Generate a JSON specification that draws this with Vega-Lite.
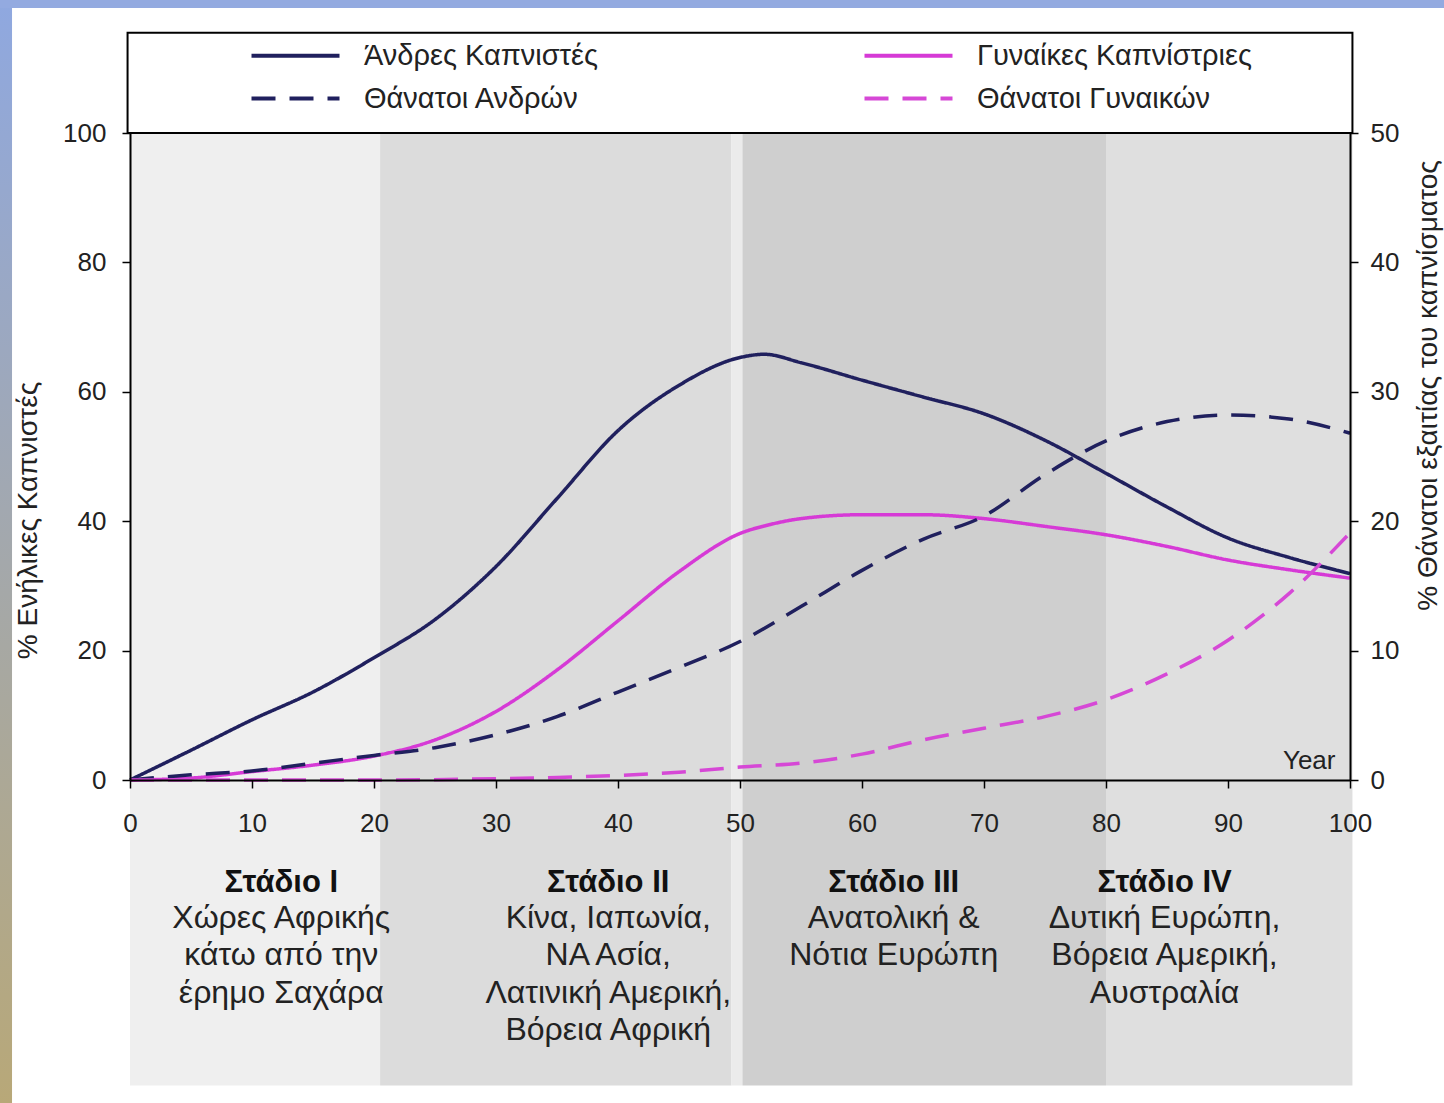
{
  "$schema": "https://vega.github.io/schema/vega-lite/v6.json",
  "width": 1220,
  "height": 647,
  "autosize": {"type": "none"},
  "padding": {"left": 130, "top": 133, "right": 94, "bottom": 323},
  "background": "white",
  "config": {
    "view": {"stroke": null},
    "font": "Liberation Sans",
    "axis": {
      "zindex": 1,
      "grid": false,
      "labelFlush": false,
      "labelOverlap": false,
      "domainColor": "#000000",
      "domainWidth": 2,
      "tickColor": "#000000",
      "tickWidth": 1.5,
      "tickSize": 8,
      "labelColor": "#222222",
      "labelFontSize": 26,
      "labelFont": "Liberation Sans",
      "titleFont": "Liberation Sans",
      "titleFontSize": 28,
      "titleFontWeight": "normal",
      "titleColor": "#222222"
    }
  },
  "datasets": {
    "smokers": [
      {"series": "Άνδρες Καπνιστές", "year": 0, "value": 0},
      {"series": "Άνδρες Καπνιστές", "year": 5, "value": 4.6},
      {"series": "Άνδρες Καπνιστές", "year": 10, "value": 9.3},
      {"series": "Άνδρες Καπνιστές", "year": 15, "value": 13.6},
      {"series": "Άνδρες Καπνιστές", "year": 20, "value": 18.9},
      {"series": "Άνδρες Καπνιστές", "year": 25, "value": 24.8},
      {"series": "Άνδρες Καπνιστές", "year": 30, "value": 33.0},
      {"series": "Άνδρες Καπνιστές", "year": 35, "value": 43.5},
      {"series": "Άνδρες Καπνιστές", "year": 40, "value": 54.0},
      {"series": "Άνδρες Καπνιστές", "year": 45, "value": 61.0},
      {"series": "Άνδρες Καπνιστές", "year": 50, "value": 65.3},
      {"series": "Άνδρες Καπνιστές", "year": 52, "value": 65.8},
      {"series": "Άνδρες Καπνιστές", "year": 55, "value": 64.5},
      {"series": "Άνδρες Καπνιστές", "year": 60, "value": 61.8},
      {"series": "Άνδρες Καπνιστές", "year": 65, "value": 59.2},
      {"series": "Άνδρες Καπνιστές", "year": 70, "value": 56.6},
      {"series": "Άνδρες Καπνιστές", "year": 75, "value": 52.5},
      {"series": "Άνδρες Καπνιστές", "year": 80, "value": 47.4},
      {"series": "Άνδρες Καπνιστές", "year": 85, "value": 42.2},
      {"series": "Άνδρες Καπνιστές", "year": 90, "value": 37.4},
      {"series": "Άνδρες Καπνιστές", "year": 95, "value": 34.4},
      {"series": "Άνδρες Καπνιστές", "year": 100, "value": 31.9},
      {"series": "Γυναίκες Καπνίστριες", "year": 0, "value": 0},
      {"series": "Γυναίκες Καπνίστριες", "year": 5, "value": 0.3},
      {"series": "Γυναίκες Καπνίστριες", "year": 10, "value": 1.3},
      {"series": "Γυναίκες Καπνίστριες", "year": 15, "value": 2.3},
      {"series": "Γυναίκες Καπνίστριες", "year": 20, "value": 3.7},
      {"series": "Γυναίκες Καπνίστριες", "year": 25, "value": 6.2},
      {"series": "Γυναίκες Καπνίστριες", "year": 30, "value": 10.6},
      {"series": "Γυναίκες Καπνίστριες", "year": 35, "value": 17.0},
      {"series": "Γυναίκες Καπνίστριες", "year": 40, "value": 24.6},
      {"series": "Γυναίκες Καπνίστριες", "year": 45, "value": 32.2},
      {"series": "Γυναίκες Καπνίστριες", "year": 50, "value": 38.1},
      {"series": "Γυναίκες Καπνίστριες", "year": 52.5, "value": 39.5},
      {"series": "Γυναίκες Καπνίστριες", "year": 55, "value": 40.4},
      {"series": "Γυναίκες Καπνίστριες", "year": 60, "value": 41.0},
      {"series": "Γυναίκες Καπνίστριες", "year": 65, "value": 41.0},
      {"series": "Γυναίκες Καπνίστριες", "year": 70, "value": 40.4},
      {"series": "Γυναίκες Καπνίστριες", "year": 75, "value": 39.2},
      {"series": "Γυναίκες Καπνίστριες", "year": 80, "value": 37.9},
      {"series": "Γυναίκες Καπνίστριες", "year": 85, "value": 36.1},
      {"series": "Γυναίκες Καπνίστριες", "year": 90, "value": 34.0},
      {"series": "Γυναίκες Καπνίστριες", "year": 95, "value": 32.5},
      {"series": "Γυναίκες Καπνίστριες", "year": 100, "value": 31.2}
    ],
    "deaths": [
      {"series": "Θάνατοι Ανδρών", "year": 0, "value": 0},
      {"series": "Θάνατοι Ανδρών", "year": 5, "value": 0.4},
      {"series": "Θάνατοι Ανδρών", "year": 10, "value": 0.7},
      {"series": "Θάνατοι Ανδρών", "year": 15, "value": 1.3},
      {"series": "Θάνατοι Ανδρών", "year": 20, "value": 1.9},
      {"series": "Θάνατοι Ανδρών", "year": 25, "value": 2.5},
      {"series": "Θάνατοι Ανδρών", "year": 30, "value": 3.5},
      {"series": "Θάνατοι Ανδρών", "year": 35, "value": 4.9},
      {"series": "Θάνατοι Ανδρών", "year": 40, "value": 6.8},
      {"series": "Θάνατοι Ανδρών", "year": 45, "value": 8.7},
      {"series": "Θάνατοι Ανδρών", "year": 50, "value": 10.7},
      {"series": "Θάνατοι Ανδρών", "year": 55, "value": 13.4},
      {"series": "Θάνατοι Ανδρών", "year": 60, "value": 16.2},
      {"series": "Θάνατοι Ανδρών", "year": 65, "value": 18.6},
      {"series": "Θάνατοι Ανδρών", "year": 70, "value": 20.4},
      {"series": "Θάνατοι Ανδρών", "year": 75, "value": 23.6},
      {"series": "Θάνατοι Ανδρών", "year": 80, "value": 26.2},
      {"series": "Θάνατοι Ανδρών", "year": 85, "value": 27.7},
      {"series": "Θάνατοι Ανδρών", "year": 90, "value": 28.2},
      {"series": "Θάνατοι Ανδρών", "year": 95, "value": 27.9},
      {"series": "Θάνατοι Ανδρών", "year": 100, "value": 26.8},
      {"series": "Θάνατοι Γυναικών", "year": 0, "value": 0},
      {"series": "Θάνατοι Γυναικών", "year": 10, "value": 0},
      {"series": "Θάνατοι Γυναικών", "year": 20, "value": 0},
      {"series": "Θάνατοι Γυναικών", "year": 30, "value": 0.1},
      {"series": "Θάνατοι Γυναικών", "year": 35, "value": 0.2},
      {"series": "Θάνατοι Γυναικών", "year": 40, "value": 0.35},
      {"series": "Θάνατοι Γυναικών", "year": 45, "value": 0.6},
      {"series": "Θάνατοι Γυναικών", "year": 50, "value": 1.0},
      {"series": "Θάνατοι Γυναικών", "year": 55, "value": 1.3},
      {"series": "Θάνατοι Γυναικών", "year": 60, "value": 2.0},
      {"series": "Θάνατοι Γυναικών", "year": 65, "value": 3.1},
      {"series": "Θάνατοι Γυναικών", "year": 70, "value": 4.0},
      {"series": "Θάνατοι Γυναικών", "year": 75, "value": 4.9},
      {"series": "Θάνατοι Γυναικών", "year": 80, "value": 6.2},
      {"series": "Θάνατοι Γυναικών", "year": 85, "value": 8.2},
      {"series": "Θάνατοι Γυναικών", "year": 90, "value": 10.8},
      {"series": "Θάνατοι Γυναικών", "year": 95, "value": 14.4},
      {"series": "Θάνατοι Γυναικών", "year": 100, "value": 19.1}
    ],
    "bands": [
      {"band": "I", "start": 0, "end": 20.5},
      {"band": "II", "start": 20.5, "end": 49.3},
      {"band": "gap", "start": 49.3, "end": 50.2},
      {"band": "III", "start": 50.2, "end": 80},
      {"band": "IV", "start": 80, "end": 100.2}
    ],
    "stageLabels": [
      {"title": "Στάδιο I", "year": 12.4, "text": "Χώρες Αφρικής\nκάτω από την\nέρημο Σαχάρα"},
      {"title": "Στάδιο II", "year": 39.2, "text": "Κίνα, Ιαπωνία,\nΝΑ Ασία,\nΛατινική Αμερική,\nΒόρεια Αφρική"},
      {"title": "Στάδιο III", "year": 62.6, "text": "Ανατολική &\nΝότια Ευρώπη"},
      {"title": "Στάδιο IV", "year": 84.8, "text": "Δυτική Ευρώπη,\nΒόρεια Αμερική,\nΑυστραλία"}
    ],
    "frame": [{"part": "frame"}]
  },
  "layer": [
    {
      "layer": [
        {
          "data": {"name": "frame"},
          "mark": {"type": "rect", "color": {"gradient": "linear", "x1": 0, "y1": 0, "x2": 0, "y2": 1, "stops": [{"offset": 0, "color": "#8fa8e0"}, {"offset": 1, "color": "#b8a878"}]}},
          "encoding": {
            "x": {"datum": -10.66, "type": "quantitative", "scale": {"domain": [0, 100], "nice": false, "zero": false}},
            "x2": {"datum": -9.67},
            "y": {"datum": -49.93, "type": "quantitative", "scale": {"domain": [0, 100], "nice": false, "zero": false}},
            "y2": {"datum": 120.57}
          }
        },
        {
          "data": {"name": "frame"},
          "mark": {"type": "rect", "color": "#93aae0"},
          "encoding": {
            "x": {"datum": -10.66, "type": "quantitative", "scale": {"domain": [0, 100], "nice": false, "zero": false}},
            "x2": {"datum": 107.71},
            "y": {"datum": 119.33, "type": "quantitative", "scale": {"domain": [0, 100], "nice": false, "zero": false}},
            "y2": {"datum": 120.57}
          }
        },
        {
          "data": {"name": "bands"},
          "mark": {"type": "rect"},
          "encoding": {
            "x": {"field": "start", "type": "quantitative", "scale": {"domain": [0, 100], "nice": false, "zero": false}},
            "x2": {"field": "end"},
            "y": {"datum": -47.2, "type": "quantitative", "scale": {"domain": [0, 100], "nice": false, "zero": false}},
            "y2": {"datum": 100},
            "fill": {"field": "band", "type": "nominal", "scale": {"domain": ["I", "II", "gap", "III", "IV"], "range": ["#efefef", "#dcdcdc", "#ebebeb", "#cfcfcf", "#dfdfdf"]}, "legend": null}
          }
        },
        {
          "data": {"name": "frame"},
          "mark": {"type": "rect", "fill": "white", "stroke": "#000000", "strokeWidth": 2},
          "encoding": {
            "x": {"datum": -0.2, "type": "quantitative", "scale": {"domain": [0, 100], "nice": false, "zero": false}},
            "x2": {"datum": 100.2},
            "y": {"datum": 100, "type": "quantitative", "scale": {"domain": [0, 100], "nice": false, "zero": false}},
            "y2": {"datum": 115.5}
          }
        },
        {
          "data": {"name": "stageLabels"},
          "mark": {"type": "text", "fontWeight": "bold", "fontSize": 31, "align": "center", "baseline": "middle", "color": "#111111", "font": "Liberation Sans"},
          "encoding": {
            "x": {"field": "year", "type": "quantitative", "scale": {"domain": [0, 100], "nice": false, "zero": false}},
            "y": {"datum": -15.9, "type": "quantitative", "scale": {"domain": [0, 100], "nice": false, "zero": false}},
            "text": {"field": "title"}
          }
        },
        {
          "data": {"name": "stageLabels"},
          "mark": {"type": "text", "fontSize": 32, "align": "center", "baseline": "top", "lineBreak": "\n", "lineHeight": 37.5, "color": "#222222", "font": "Liberation Sans"},
          "encoding": {
            "x": {"field": "year", "type": "quantitative", "scale": {"domain": [0, 100], "nice": false, "zero": false}},
            "y": {"datum": -19.0, "type": "quantitative", "scale": {"domain": [0, 100], "nice": false, "zero": false}},
            "text": {"field": "text"}
          }
        },
        {
          "data": {"name": "smokers"},
          "mark": {"type": "line", "strokeWidth": 3.5, "interpolate": "monotone"},
          "encoding": {
            "x": {
              "field": "year", "type": "quantitative",
              "scale": {"domain": [0, 100], "nice": false, "zero": false},
              "axis": {"zindex": 2, "labelFlush": false, "values": [0, 10, 20, 30, 40, 50, 60, 70, 80, 90, 100], "labelPadding": 22, "title": "Year", "titleX": 1205, "titleY": -12, "titleAlign": "right", "titleBaseline": "alphabetic", "titleAnchor": null, "titleFontSize": 26}
            },
            "y": {
              "field": "value", "type": "quantitative",
              "scale": {"domain": [0, 100], "nice": false, "zero": false},
              "axis": {"zindex": 2, "values": [0, 20, 40, 60, 80, 100], "labelPadding": 16, "title": "% Ενήλικες Καπνιστές", "titleX": -102, "titleY": 387, "titleAngle": -90, "titleAlign": "center", "titleBaseline": "middle", "titleAnchor": null}
            },
            "color": {
              "field": "series", "type": "nominal",
              "scale": {"domain": ["Άνδρες Καπνιστές", "Γυναίκες Καπνίστριες", "Θάνατοι Ανδρών", "Θάνατοι Γυναικών"], "range": ["#20205e", "#d63ad6", "#20205e", "#d648d6"]},
              "legend": {
                "orient": "none", "legendX": 151, "legendY": -92, "direction": "horizontal", "columns": 2,
                "title": null, "padding": 0, "symbolType": "M-4,0H4", "symbolSize": 484, "symbolStrokeWidth": 4,
                "labelOffset": 54, "labelFontSize": 29, "labelColor": "#222222", "labelFont": "Liberation Sans",
                "columnPadding": 258, "rowPadding": 13, "labelLimit": 400
              }
            },
            "strokeDash": {
              "field": "series", "type": "nominal",
              "scale": {"domain": ["Άνδρες Καπνιστές", "Γυναίκες Καπνίστριες", "Θάνατοι Ανδρών", "Θάνατοι Γυναικών"], "range": [[1, 0], [1, 0], [24, 14], [24, 14]]},
              "legend": {
                "orient": "none", "legendX": 151, "legendY": -92, "direction": "horizontal", "columns": 2,
                "title": null, "padding": 0, "symbolType": "M-4,0H4", "symbolSize": 484, "symbolStrokeWidth": 4,
                "labelOffset": 54, "labelFontSize": 29, "labelColor": "#222222", "labelFont": "Liberation Sans",
                "columnPadding": 258, "rowPadding": 13, "labelLimit": 400
              }
            }
          }
        }
      ]
    },
    {
      "data": {"name": "deaths"},
      "mark": {"type": "line", "strokeWidth": 3.5, "interpolate": "monotone"},
      "encoding": {
        "x": {
          "field": "year", "type": "quantitative",
          "scale": {"domain": [0, 100], "nice": false, "zero": false},
          "axis": {"zindex": 2, "labelFlush": false, "values": [0, 10, 20, 30, 40, 50, 60, 70, 80, 90, 100], "labelPadding": 22, "title": "Year", "titleX": 1205, "titleY": -12, "titleAlign": "right", "titleBaseline": "alphabetic", "titleAnchor": null, "titleFontSize": 26}
        },
        "y": {
          "field": "value", "type": "quantitative",
          "scale": {"domain": [0, 50], "nice": false, "zero": false},
          "axis": {"zindex": 2, "orient": "right", "values": [0, 10, 20, 30, 40, 50], "labelPadding": 12, "title": "% Θάνατοι εξαιτίας του καπνίσματος", "titleX": 78, "titleY": 252, "titleAngle": -90, "titleAlign": "center", "titleBaseline": "middle", "titleAnchor": null}
        },
        "color": {
          "field": "series", "type": "nominal",
          "scale": {"domain": ["Άνδρες Καπνιστές", "Γυναίκες Καπνίστριες", "Θάνατοι Ανδρών", "Θάνατοι Γυναικών"], "range": ["#20205e", "#d63ad6", "#20205e", "#d648d6"]},
          "legend": null
        },
        "strokeDash": {
          "field": "series", "type": "nominal",
          "scale": {"domain": ["Άνδρες Καπνιστές", "Γυναίκες Καπνίστριες", "Θάνατοι Ανδρών", "Θάνατοι Γυναικών"], "range": [[1, 0], [1, 0], [24, 14], [24, 14]]},
          "legend": null
        }
      }
    }
  ],
  "resolve": {"scale": {"y": "independent"}}
}
